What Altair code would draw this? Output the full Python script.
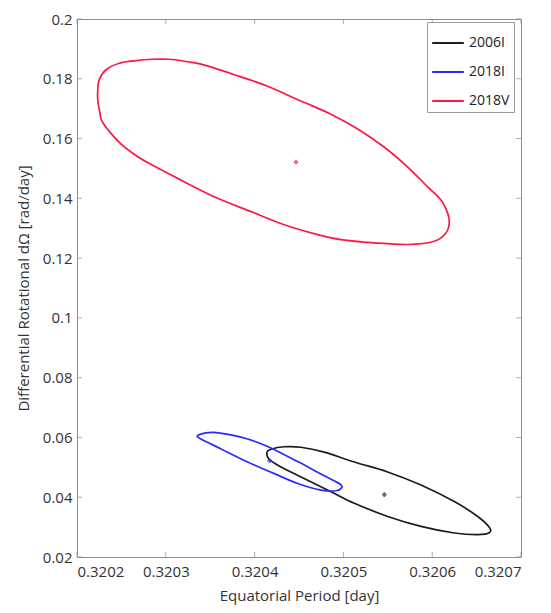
import altair as alt
import pandas as pd

SERIES = ["2006I", "2018I", "2018V"]
COLORS = ["#1c1c1c", "#2a2aff", "#ff1744"]

# 2006I contour
BLACK_X = [0.3204140, 0.3204185, 0.3204334, 0.3204522, 0.3204785, 0.3205123, 0.3205499,
           0.3205874, 0.3206249, 0.3206512, 0.3206643, 0.3206643, 0.3206512, 0.3206249,
           0.3205874, 0.3205499, 0.3205123, 0.3204860, 0.3204522, 0.3204297, 0.3204162]
BLACK_Y = [0.05508, 0.05607, 0.05689, 0.05673, 0.05508, 0.05177, 0.04846,
           0.04406, 0.03853, 0.03357, 0.02993, 0.02811, 0.02751, 0.02804,
           0.03026, 0.03357, 0.03797, 0.04184, 0.04680, 0.05011, 0.05276]

# 2018I contour
BLUE_X = [0.3203359, 0.3203453, 0.3203546, 0.3203734, 0.3203922, 0.3204147, 0.3204485,
          0.3204725, 0.3204883, 0.3204967, 0.3204981, 0.3204917, 0.3204748, 0.3204485,
          0.3204222, 0.3203922, 0.3203622, 0.3203396]
BLUE_Y = [0.06060, 0.06153, 0.06169, 0.06086, 0.05948, 0.05696, 0.05193,
          0.04813, 0.04564, 0.04432, 0.04316, 0.04217, 0.04240, 0.04459,
          0.04789, 0.05177, 0.05617, 0.05948]

# 2018V contour
RED_X = [0.3202233, 0.3202251, 0.3202327, 0.3202476, 0.3202664, 0.3202852, 0.3203039,
         0.3203227, 0.3203396, 0.3203771, 0.3204147, 0.3204522, 0.3204860, 0.3205161,
         0.3205461, 0.3205724, 0.3205949, 0.3206099, 0.3206174, 0.3206192, 0.3206155,
         0.3206024, 0.3205724, 0.3205348, 0.3204973, 0.3204711, 0.3204334, 0.3203959,
         0.3203584, 0.3203227, 0.3202852, 0.3202664, 0.3202476, 0.3202289, 0.3202257,
         0.3202236]
RED_Y = [0.17585, 0.17972, 0.18303, 0.18521, 0.18610, 0.18653, 0.18653,
         0.18577, 0.18488, 0.18137, 0.17750, 0.17254, 0.16814, 0.16317,
         0.15708, 0.15047, 0.14385, 0.13945, 0.13505, 0.13174, 0.12843,
         0.12565, 0.12456, 0.12512, 0.12621, 0.12787, 0.13118, 0.13558,
         0.14001, 0.14524, 0.15103, 0.15434, 0.15874, 0.16536, 0.16890,
         0.17221]

CENTER_X = [0.3205461, 0.3204168, 0.3204466]
CENTER_Y = [0.04085, 0.05226, 0.15212]

X_TICKS = [0.3202, 0.3203, 0.3204, 0.3205, 0.3206, 0.3207]
Y_TICKS = [0.02, 0.04, 0.06, 0.08, 0.1, 0.12, 0.14, 0.16, 0.18, 0.2]

rows = []
for name, xs, ys in [("2006I", BLACK_X, BLACK_Y), ("2018I", BLUE_X, BLUE_Y), ("2018V", RED_X, RED_Y)]:
    for i, (a, b) in enumerate(zip(xs, ys)):
        rows.append({"series": name, "x": a, "y": b, "order": i})
contours = pd.DataFrame(rows)
centers = pd.DataFrame({"series": SERIES, "x": CENTER_X, "y": CENTER_Y})
xticks = pd.DataFrame({"x": X_TICKS})
yticks = pd.DataFrame({"y": Y_TICKS})

FONT = "Open Sans"
W, H = 444, 538

xscale = alt.Scale(domain=[0.3202, 0.3207], nice=False, zero=False)
yscale = alt.Scale(domain=[0.02, 0.2], nice=False, zero=False)
xaxis = alt.Axis(values=X_TICKS, format=".4f", title="Equatorial Period [day]",
                 labelPadding=7, titlePadding=9)
yaxis = alt.Axis(values=Y_TICKS, labelExpr="format(datum.value, '~g')",
                 title="Differential Rotational d\u03a9 [rad/day]",
                 labelPadding=5, titlePadding=11)

X = alt.X("x:Q", scale=xscale, axis=xaxis)
Y = alt.Y("y:Q", scale=yscale, axis=yaxis)
color = alt.Color("series:N", scale=alt.Scale(domain=SERIES, range=COLORS),
                  legend=alt.Legend(title=None, orient="none", legendX=350, legendY=3,
                                    symbolType="stroke", symbolSize=1000,
                                    symbolStrokeWidth=2, labelFontSize=14,
                                    labelFont=FONT, labelColor="#222",
                                    strokeColor="#9a9a9a", fillColor="white",
                                    padding=4, rowPadding=5, labelOffset=4))

lines = alt.Chart(contours).mark_line(interpolate="cardinal-closed", strokeWidth=1.7).encode(
    x=X, y=Y, color=color, order="order:Q")

pts = alt.Chart(centers).mark_point(shape="cross", filled=True, size=22, opacity=0.7).encode(
    x=X, y=Y, color=alt.Color("series:N", scale=alt.Scale(domain=SERIES, range=COLORS), legend=None))

TICK_COLOR = "#8a8a8a"
bt = alt.Chart(xticks).mark_tick(color=TICK_COLOR, thickness=1, size=5).encode(x=X, y=alt.value(H - 2.5))
tt = alt.Chart(xticks).mark_tick(color=TICK_COLOR, thickness=1, size=5).encode(x=X, y=alt.value(2.5))
lt = alt.Chart(yticks).mark_tick(color=TICK_COLOR, thickness=1, size=5).encode(y=Y, x=alt.value(2.5))
rt = alt.Chart(yticks).mark_tick(color=TICK_COLOR, thickness=1, size=5).encode(y=Y, x=alt.value(W - 2.5))

chart = alt.layer(bt, tt, lt, rt, lines, pts).properties(
    width=W, height=H,
    autosize=alt.AutoSizeParams(type="none"),
    padding={"left": 69, "top": 11, "right": 22, "bottom": 48},
).configure_view(stroke="#8f8f8f", strokeWidth=1).configure_axis(
    domain=False, grid=False, ticks=False, tickSize=0,
    labelFont=FONT, labelFontSize=15, labelColor="#333",
    titleFont=FONT, titleFontSize=15, titleFontWeight="normal", titleColor="#333",
)

chart.save("out.html", embed_options={"renderer": "svg", "actions": False})
